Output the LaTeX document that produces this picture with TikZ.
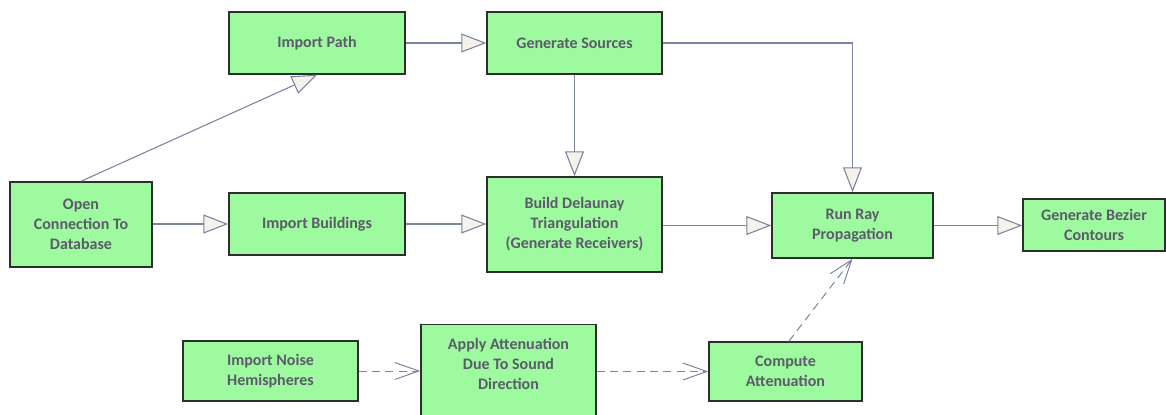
\documentclass[tikz,border=0pt]{standalone}
\usepackage{fontspec}
\setmainfont{Carlito}
\usetikzlibrary{arrows.meta}
\definecolor{boxfill}{HTML}{9EFA9E}
\definecolor{boxline}{HTML}{2E2E2E}
\definecolor{txt}{HTML}{5B5B6B}
\definecolor{wire}{HTML}{7A83A0}
\definecolor{tipfill}{HTML}{F7F1EC}
\tikzset{
  task/.style={draw=boxline, fill=boxfill, line width=1.1pt, text=txt,
    font=\bfseries\fontsize{12}{15}\selectfont, align=center, inner sep=0pt},
  flow/.style={draw=wire, line width=0.8pt,
    -{Triangle[length=18.75pt, width=14.25pt, fill=tipfill]}},
  dep/.style={draw=wire, line width=0.75pt, dash pattern=on 6pt off 4pt,
    -{Straight Barb[length=18pt, width=12.75pt]}}
}
\begin{document}
\begin{tikzpicture}[x=0.75pt, y=-0.75pt]
\useasboundingbox (0,0) rectangle (1166,414);

% process boxes (sizes in pt)
\node[task, minimum width=132pt, minimum height=46.5pt] (path) at (317,43) {Import Path};
\node[task, minimum width=131.25pt, minimum height=46.5pt] (src) at (574.5,43) {Generate Sources};
\node[task, minimum width=106.5pt, minimum height=63.75pt] (open) at (81,224.5) {Open\\Connection To\\Database};
\node[task, minimum width=132pt, minimum height=46.5pt] (bld) at (317,224) {Import Buildings};
\node[task, minimum width=131.25pt, minimum height=71.25pt] (del) at (574.5,224.5) {Build Delaunay\\Triangulation\\(Generate Receivers)};
\node[task, minimum width=120.75pt, minimum height=48.75pt] (ray) at (852.5,225.5) {Run Ray\\Propagation};
\node[task, minimum width=106.5pt, minimum height=39pt] (bez) at (1094,225) {Generate Bezier\\Contours};
\node[task, minimum width=131.25pt, minimum height=45pt] (noise) at (270.5,371) {Import Noise\\Hemispheres};
\node[task, minimum width=131.25pt, anchor=north, inner ysep=10pt, text depth=70pt] (apply) at (508.5,324) {Apply Attenuation\\Due To Sound\\Direction};
\node[task, minimum width=114.75pt, minimum height=44.25pt] (comp) at (785.5,371.5) {Compute\\Attenuation};

% control flow
\draw[flow] (path) -- (src);
\draw[flow] (src.east) -| (ray.north);
\draw[flow] (src) -- (del);
\draw[flow] (open.north) -- (path.south);
\draw[flow] (open.east |- bld.west) -- (bld.west);
\draw[flow] (bld) -- (del.west |- bld.west);
\draw[flow] (del.east |- ray.west) -- (ray.west);
\draw[flow] (ray.east) -- (bez.west |- ray.east);

% dependencies
\draw[dep] (noise.east) -- (noise.east -| apply.west);
\draw[dep] (apply.east |- comp.west) -- (comp.west);
\draw[dep] ([xshift=2.5pt]comp.north) -- (ray.south);
\end{tikzpicture}
\end{document}
